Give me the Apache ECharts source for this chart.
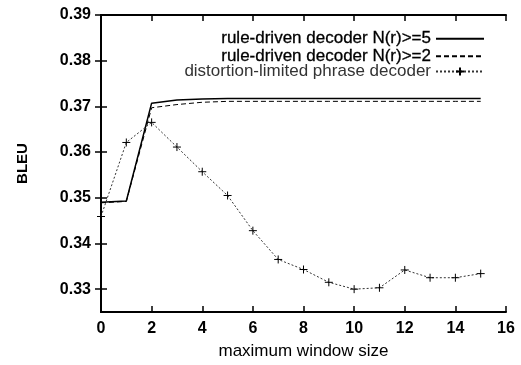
<!DOCTYPE html>
<html>
<head>
<meta charset="utf-8">
<script src="https://cdn.jsdelivr.net/npm/echarts@6/dist/echarts.min.js"></script>
<style>
	html, body { margin: 0; padding: 0; background: #fff; }
	#chart { width: 521px; height: 365px; }
</style>
</head>
<body>
<div id="chart"></div>
<script>
// values
const windowSizes = [0, 1, 2, 3, 4, 5, 6, 7, 8, 9, 10, 11, 12, 13, 14, 15];
const ruleN5 = [0.3490, 0.3493, 0.3707, 0.3714, 0.3716, 0.3717, 0.3717, 0.3717, 0.3717, 0.3717, 0.3717, 0.3717, 0.3717, 0.3717, 0.3717, 0.3717];
const ruleN2 = [0.3489, 0.3492, 0.3697, 0.3704, 0.3709, 0.3711, 0.3711, 0.3711, 0.3711, 0.3711, 0.3711, 0.3711, 0.3711, 0.3711, 0.3711, 0.3711];
const phraseDecoder = [0.3459, 0.3621, 0.3665, 0.3611, 0.3557, 0.3505, 0.3428, 0.3365, 0.3343, 0.3315, 0.3300, 0.3303, 0.3342, 0.3325, 0.3325, 0.3334];
const yTicks = [0.33, 0.34, 0.35, 0.36, 0.37, 0.38, 0.39];
const seriesNames = ['rule-driven decoder N(r)>=5', 'rule-driven decoder N(r)>=2', 'distortion-limited phrase decoder'];

const chart = echarts.init(document.getElementById('chart'), undefined, { renderer: 'canvas' });

const font = 'Liberation Sans, Arial, Helvetica, sans-serif';
const pair = (ys) => windowSizes.map((x, i) => [x, ys[i]]);

// one legend per row so text is right-aligned with the key on its right
const legendRow = (name, top, color, heavy, hideSymbol) => ({
	data: [name],
	orient: 'vertical',
	align: 'right',
	right: 36,
	top: top,
	padding: 0,
	itemWidth: 48,
	itemHeight: 10,
	selectedMode: false,
	itemStyle: hideSymbol ? { color: 'transparent', borderColor: 'transparent', borderWidth: 0 } : {},
	textStyle: {
		fontFamily: font, fontSize: 17, color: color,
		textBorderColor: heavy ? color : 'transparent', textBorderWidth: heavy ? 0.3 : 0,
	},
});

const xBase = {
	type: 'value', min: 0, max: 16, interval: 2,
	axisLine: { show: true, lineStyle: { color: '#000', width: 2 } },
	axisTick: { show: true, inside: true, length: 6, lineStyle: { color: '#000', width: 1.5 } },
	splitLine: { show: false },
};
const yBase = {
	type: 'value', min: 0.325, max: 0.39,
	axisLine: { show: true, lineStyle: { color: '#000', width: 2 } },
	axisTick: { show: true, inside: true, length: 6, customValues: yTicks, lineStyle: { color: '#000', width: 1.5 } },
	splitLine: { show: false },
};

chart.setOption({
	animation: false,
	backgroundColor: '#fff',
	grid: { left: 101, right: 15, top: 15, bottom: 53 },
	legend: [
		legendRow(seriesNames[0], 30, '#000', true, true),
		legendRow(seriesNames[1], 47.5, '#000', true, true),
		legendRow(seriesNames[2], 63, '#333', false, false),
	],
	xAxis: [
		{
			...xBase,
			position: 'bottom',
			name: 'maximum window size',
			nameLocation: 'middle',
			nameGap: 31,
			nameTextStyle: { fontFamily: font, fontSize: 17, color: '#000' },
			axisLabel: { margin: 9, fontFamily: font, fontSize: 16, fontWeight: 'bold', color: '#000' },
		},
		{ ...xBase, position: 'top', axisLabel: { show: false } },
	],
	yAxis: [
		{
			...yBase,
			position: 'left',
			name: 'BLEU',
			nameLocation: 'middle',
			nameGap: 71,
			nameRotate: 90,
			nameTextStyle: { fontFamily: font, fontSize: 15, fontWeight: 'bold', color: '#000' },
			axisLabel: {
				customValues: yTicks, margin: 10,
				fontFamily: font, fontSize: 16, fontWeight: 'bold', color: '#000',
				formatter: (v) => v.toFixed(2),
			},
		},
		{ ...yBase, position: 'right', axisLabel: { show: false } },
	],
	series: [
		{
			name: seriesNames[0], type: 'line', data: pair(ruleN5),
			symbol: 'none',
			lineStyle: { color: '#000', width: 1.5, type: 'solid' },
			itemStyle: { color: '#000' },
		},
		{
			name: seriesNames[1], type: 'line', data: pair(ruleN2),
			symbol: 'none',
			lineStyle: { color: '#000', width: 1, type: [5, 3] },
			itemStyle: { color: '#000' },
		},
		{
			name: seriesNames[2], type: 'line', data: pair(phraseDecoder),
			symbol: 'path://M0,5H10M5,0V10', symbolSize: 8, showAllSymbol: true,
			lineStyle: { color: '#333', width: 1, type: [2, 2] },
			itemStyle: { color: '#000', borderColor: '#000', borderWidth: 1 },
		},
	],
});

window.addEventListener('resize', () => chart.resize());
</script>
</body>
</html>
